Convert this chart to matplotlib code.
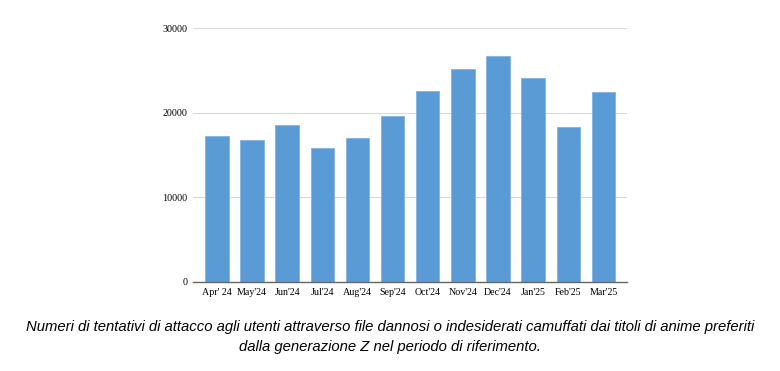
import matplotlib.pyplot as plt

months = ["Apr' 24", "May'24", "Jun'24", "Jul'24", "Aug'24", "Sep'24",
          "Oct'24", "Nov'24", "Dec'24", "Jan'25", "Feb'25", "Mar'25"]
attempts = [17250, 16750, 18600, 15800, 16950, 19600,
            22550, 25100, 26750, 24150, 18300, 22450]
yticks = [0, 10000, 20000, 30000]

caption = ("Numeri di tentativi di attacco agli utenti attraverso file dannosi o indesiderati camuffati dai titoli di anime preferiti\n"
           "dalla generazione Z nel periodo di riferimento.")

fig = plt.figure(figsize=(7.8, 3.71), dpi=100)
ax = fig.add_axes([0.2474, 0.2399, 0.5564, 0.6846])

x = range(len(months))
ax.bar(x, attempts, width=0.67, color="#5b9bd5", edgecolor="#7fb2e0",
       linewidth=0.6, zorder=3)

ax.set_ylim(0, 30000)
ax.set_xlim(-0.68, 11.67)
ax.set_yticks(yticks)
ax.set_yticklabels([str(v) for v in yticks], family="Liberation Serif", fontsize=7.2)
ax.set_xticks(list(x))
ax.set_xticklabels(months, family="Liberation Serif", fontsize=7.2)
ax.tick_params(length=0, pad=4)
ax.grid(axis="y", color="#d9d9d9", linewidth=0.8, zorder=0)
for side in ["top", "right", "left"]:
    ax.spines[side].set_visible(False)
ax.spines["bottom"].set_color("#666666")
ax.spines["bottom"].set_linewidth(1.0)
ax.spines["bottom"].set_zorder(4)

fig.text(0.5, 0.091, caption, ha="center", va="center", fontsize=10.75,
         style="italic", family="Liberation Sans", linespacing=1.5)

fig.savefig("out.png", dpi=100, facecolor="white")
